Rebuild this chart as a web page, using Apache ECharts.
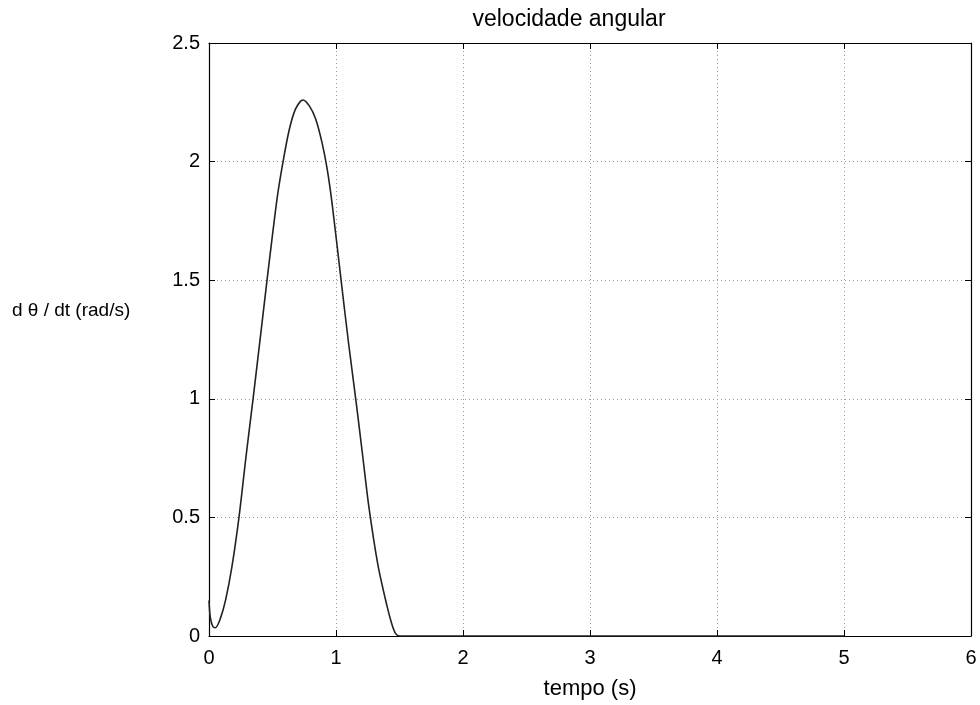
<!DOCTYPE html>
<html>
<head>
<meta charset="utf-8">
<script src="https://cdn.jsdelivr.net/npm/echarts@6/dist/echarts.min.js"></script>
<style>
  html, body { margin: 0; padding: 0; background: #fff; }
  #chart { width: 980px; height: 705px; }
</style>
</head>
<body>
<div id="chart"></div>
<script>
// tempo (s) e velocidade angular (rad/s)
const tempo = [0, 0.01, 0.03, 0.05, 0.087, 0.13, 0.18, 0.236, 0.29, 0.347, 0.4, 0.457, 0.535, 0.58, 0.63, 0.68, 0.74, 0.79, 0.84, 0.89, 0.93, 0.97, 1.04, 1.1, 1.16, 1.21, 1.26, 1.33, 1.4, 1.44, 1.47, 1.5, 2, 3, 4, 5, 6]
const velocidade = [0.15, 0.08, 0.04, 0.035, 0.07, 0.15, 0.29, 0.5, 0.75, 1.0, 1.24, 1.5, 1.84, 1.99, 2.13, 2.22, 2.26, 2.235, 2.18, 2.08, 1.97, 1.82, 1.5, 1.23, 0.98, 0.76, 0.54, 0.3, 0.13, 0.05, 0.01, 0, 0, 0, 0, 0]
const xTicks = [0, 1, 2, 3, 4, 5, 6]
const yTicks = [0, 0.5, 1, 1.5, 2, 2.5]

const font = 'Liberation Sans, Arial, sans-serif'
const chart = echarts.init(document.getElementById('chart'))

const gridLine = { show: true, lineStyle: { color: '#9a9a9a', type: [1, 3], width: 1 } }
const tickIn = { show: true, inside: true, length: 6, lineStyle: { color: '#000' } }
const boxLine = { show: true, onZero: false, lineStyle: { color: '#000', width: 1.2 } }
const pontos = tempo.map((t, i) => [t, velocidade[i]])

chart.setOption({
  animation: false,
  title: {
    text: 'velocidade angular',
    left: 564, top: 3, textAlign: 'center',
    textStyle: { fontFamily: font, fontSize: 23, fontWeight: 'normal', color: '#000' }
  },
  graphic: [{
    type: 'text', left: 12, top: 301,
    style: { text: 'd θ / dt (rad/s)', fontFamily: font, fontSize: 19, fill: '#000' }
  }],
  grid: { left: 209, right: 9, top: 43, bottom: 69 },
  xAxis: [{
    type: 'value', min: xTicks[0], max: xTicks[xTicks.length - 1], interval: 1,
    name: 'tempo (s)', nameLocation: 'middle', nameGap: 42,
    nameTextStyle: { fontFamily: font, fontSize: 22, color: '#000' },
    axisLine: boxLine,
    axisTick: tickIn,
    axisLabel: { fontFamily: font, fontSize: 20, color: '#000', margin: 12 },
    splitLine: gridLine
  }, {
    type: 'value', position: 'top', min: xTicks[0], max: xTicks[xTicks.length - 1], interval: 1,
    axisLine: boxLine,
    axisTick: tickIn, axisLabel: { show: false }, splitLine: { show: false }
  }],
  yAxis: [{
    type: 'value', min: yTicks[0], max: yTicks[yTicks.length - 1], interval: 0.5,
    axisLine: boxLine,
    axisTick: tickIn,
    axisLabel: { fontFamily: font, fontSize: 20, color: '#000', margin: 9 },
    splitLine: gridLine
  }, {
    type: 'value', position: 'right', min: yTicks[0], max: yTicks[yTicks.length - 1], interval: 0.5,
    axisLine: boxLine,
    axisTick: tickIn, axisLabel: { show: false }, splitLine: { show: false }
  }],
  series: [{
    type: 'line',
    data: pontos,
    smooth: 0.3,
    showSymbol: false,
    lineStyle: { color: '#222', width: 1.6 }
  }, {
    // série invisível para que os eixos superior e direito sejam desenhados
    type: 'line', xAxisIndex: 1, yAxisIndex: 1,
    data: pontos, showSymbol: false, silent: true,
    lineStyle: { opacity: 0 }
  }]
})
</script>
</body>
</html>
